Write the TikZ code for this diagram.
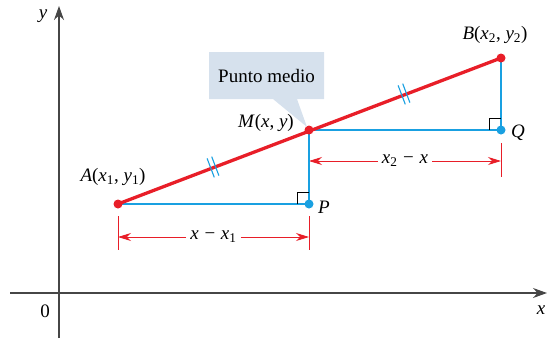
\documentclass[tikz,border=0pt]{standalone}
\usepackage{fontspec}
\setmainfont{Liberation Serif}
\usetikzlibrary{arrows.meta,calc,shapes.callouts}
\definecolor{segred}{RGB}{232,30,40}
\definecolor{segblue}{RGB}{25,160,225}
\definecolor{axisgray}{RGB}{70,70,70}
\definecolor{callfill}{RGB}{214,225,237}
\newcommand{\wminus}{\hspace{0.3em}−\hspace{0.3em}}
\begin{document}
\begin{tikzpicture}[x=1pt,y=-1pt,font=\fontsize{19}{22}\selectfont,
  axisline/.style={draw=axisgray,line width=1.1pt},
  segment/.style={draw=segred,line width=3.3pt},
  legline/.style={draw=segblue,line width=1.5pt},
  dimline/.style={draw=segred,line width=0.8pt},
  dimarrow/.style={dimline,-{Stealth[length=13pt,width=8pt]}},
  reddot/.style={circle,fill=segred,inner sep=0pt,minimum size=9pt},
  bluedot/.style={circle,fill=segblue,inner sep=0pt,minimum size=9pt},
  rightangle/.style={draw=black,line width=0.8pt},
  hashmark/.style={draw=segblue,line width=1.1pt},
  dimlabel/.style={fill=white,inner sep=4pt}]
\useasboundingbox (0,0) rectangle (547,338);
% axes
\coordinate (xs) at (10,293);
\coordinate (xe) at (547,293);
\coordinate (ys) at (59,338);
\coordinate (ye) at (59,6);
\draw[axisline,-{Stealth[length=14pt,width=10pt]}] (xs) -- (xe);
\draw[axisline,-{Stealth[length=14pt,width=10pt]}] (ys) -- (ye);
\node (ylab) at (43,16) {\textit{y}};
\node (xlab) at (541,310) {\textit{x}};
\node (orig) at (45,311) {0};
% points
\coordinate (A) at (118,204);
\coordinate (P) at (309,204);
\coordinate (M) at (309,130);
\coordinate (Q) at (501,130);
\coordinate (B) at (501,58);
% dimension lines
\coordinate (d1a) at (118,216); \coordinate (d1b) at (118,250);
\coordinate (d1c) at (309,216); \coordinate (d1d) at (309,250);
\draw[dimline] (d1a) -- (d1b);
\draw[dimline] (d1c) -- (d1d);
\node[dimlabel] (dimlow) at (213.5,237) {\textit{x}\wminus\textit{x}\textsubscript{1}};
\coordinate (l1) at (118,237); \coordinate (l2) at (309,237);
\draw[dimarrow] (dimlow.west) -- (l1);
\draw[dimarrow] (dimlow.east) -- (l2);
\coordinate (d2a) at (309,143); \coordinate (d2b) at (309,177);
\coordinate (d2c) at (501,143); \coordinate (d2d) at (501,177);
\draw[dimline] (d2a) -- (d2b);
\draw[dimline] (d2c) -- (d2d);
\node[dimlabel] (dimup) at (405,161) {\textit{x}\textsubscript{2}\wminus\textit{x}};
\coordinate (u1) at (309,161); \coordinate (u2) at (501,161);
\draw[dimarrow] (dimup.west) -- (u1);
\draw[dimarrow] (dimup.east) -- (u2);
% legs
\draw[legline] (A) -- (P) -- (M) -- (Q) -- (B);
% right angles
\draw[rightangle] ($(P)+(-12,0)$) -- ++(0,-12) -- ++(12,0);
\draw[rightangle] ($(Q)+(-12,0)$) -- ++(0,-12) -- ++(12,0);
% segment
\draw[segment] (A) -- (B);
% hash marks
\coordinate (ua) at (2.3,-0.88);
\coordinate (na) at (3.6,9.5);
\foreach \cx/\cy in {213/167,404/94}{
  \coordinate (hc) at (\cx,\cy);
  \draw[hashmark] ($(hc)+(ua)+(na)$) -- ($(hc)+(ua)-(na)$);
  \draw[hashmark] ($(hc)-(ua)+(na)$) -- ($(hc)-(ua)-(na)$);
}
% dots
\node[reddot] (Ad) at (A) {};
\node[reddot] (Md) at (M) {};
\node[reddot] (Bd) at (B) {};
\node[bluedot] (Pd) at (P) {};
\node[bluedot] (Qd) at (Q) {};
% labels
\node (Alab) at (113,177) {\textit{A}(\textit{x}\textsubscript{1}, \textit{y}\textsubscript{1})};
\node[anchor=east,inner sep=0pt] (Mlab) at (294,123) {\textit{M}(\textit{x}, \textit{y})};
\node (Blab) at (495,35) {\textit{B}(\textit{x}\textsubscript{2}, \textit{y}\textsubscript{2})};
\node (Plab) at (324,207) {\textit{P}};
\node (Qlab) at (518,133) {\textit{Q}};
% callout
\node[rectangle callout,fill=callfill,minimum width=115pt,minimum height=47pt,
  callout absolute pointer={(307,127)},callout pointer width=24pt] (call) at (266.5,75.5) {Punto medio};
\end{tikzpicture}
\end{document}
